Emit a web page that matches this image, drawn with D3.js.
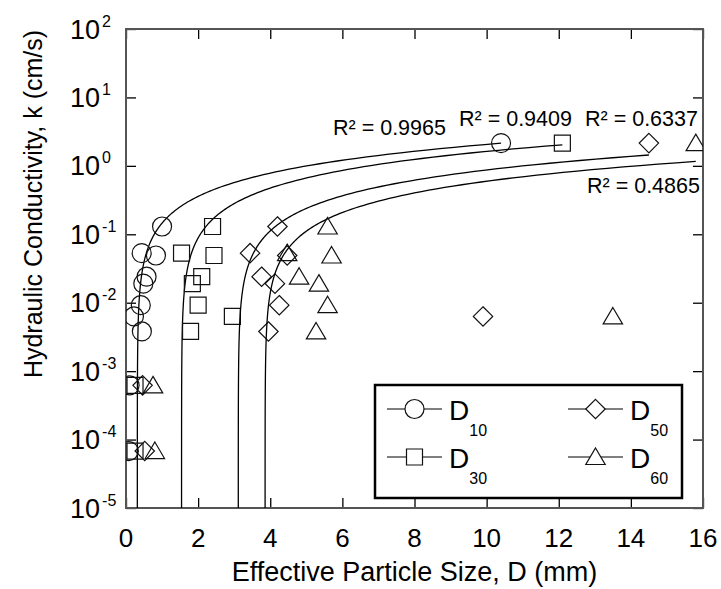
<!DOCTYPE html>
<html>
<head>
<meta charset="utf-8">
<script src="https://cdn.jsdelivr.net/npm/d3@7"></script>
<style>
  html, body { margin: 0; padding: 0; background: #fff; }
  text { font-family: "Liberation Sans", Arial, sans-serif; fill: #000; }
</style>
</head>
<body>
<script>
// ---------------- data ----------------
const kValues = [0.13, 0.053, 0.049, 0.024, 0.019, 0.0092, 0.0063, 0.0038, 0.00062, 0.000068, 2.15];
const d10 = [1.00, 0.435, 0.83, 0.57, 0.48, 0.41, 0.22, 0.44, 0.10, 0.08, 10.4];
const d30 = [2.40, 1.54, 2.44, 2.10, 1.84, 2.00, 2.95, 1.79, 0.25, 0.25, 12.1];
const d50 = [4.20, 3.44, 4.47, 3.76, 4.13, 4.25, 9.90, 3.95, 0.46, 0.52, 14.5];
const d60 = [5.59, 4.47, 5.70, 4.80, 5.35, 5.59, 13.5, 5.27, 0.75, 0.80, 15.8];
const seriesNames = ["D10", "D30", "D50", "D60"];
const seriesSubs = ["10", "30", "50", "60"];
const seriesMarkers = ["circle", "square", "diamond", "triangle"];
const r2Labels = ["R² = 0.9965", "R² = 0.9409", "R² = 0.6337", "R² = 0.4865"];
const xTicks = [0, 2, 4, 6, 8, 10, 12, 14, 16];
const yExponents = [2, 1, 0, -1, -2, -3, -4, -5];

// ---------------- layout ----------------
const W = 721, H = 589;
const L = 126, R = 703, T = 29, B = 508;
const svg = d3.select("body").append("svg").attr("width", W).attr("height", H);

const x = d3.scaleLinear().domain([0, 16]).range([L, R]);
const y = d3.scaleLog().domain([1e-5, 1e2]).range([B, T]);

svg.append("defs").append("clipPath").attr("id", "plotclip")
  .append("rect").attr("x", L).attr("y", T).attr("width", R - L).attr("height", B - T);

// marker path generators
function markerPath(type) {
  const s = 9.5;
  if (type === "circle") return d3.symbol().type(d3.symbolCircle).size(Math.PI * s * s)();
  if (type === "square") return "M-8,-8H8V8H-8Z";
  if (type === "diamond") return "M0,-9.7L9.7,0L0,9.7L-9.7,0Z";
  return "M0,-9L9.7,7.5L-9.7,7.5Z";
}

// axes ticks (inward)
const tickLen = 10;
svg.append("g").attr("transform", `translate(0,${B})`)
  .call(d3.axisBottom(x).tickValues(xTicks).tickSize(-tickLen).tickFormat(""))
  .call(g => g.select(".domain").remove());
svg.append("g").attr("transform", `translate(0,${T})`)
  .call(d3.axisTop(x).tickValues(xTicks).tickSize(-tickLen).tickFormat(""))
  .call(g => g.select(".domain").remove());
const yTickVals = yExponents.map(e => Math.pow(10, e));
svg.append("g").attr("transform", `translate(${L},0)`)
  .call(d3.axisLeft(y).tickValues(yTickVals).tickSize(-tickLen).tickFormat(""))
  .call(g => g.select(".domain").remove());
svg.append("g").attr("transform", `translate(${R},0)`)
  .call(d3.axisRight(y).tickValues(yTickVals).tickSize(-tickLen).tickFormat(""))
  .call(g => g.select(".domain").remove());
svg.selectAll(".tick line").attr("stroke", "#000").attr("stroke-width", 1.3);

// frame
svg.append("rect").attr("x", L).attr("y", T).attr("width", R - L).attr("height", B - T)
  .attr("fill", "none").attr("stroke", "#555").attr("stroke-width", 2);

// x tick labels
svg.append("g").selectAll("text").data(xTicks).join("text")
  .attr("x", d => x(d)).attr("y", 547)
  .attr("text-anchor", "middle").attr("font-size", 26)
  .text(d => d);

// y tick labels
const yl = svg.append("g").selectAll("text").data(yExponents).join("text")
  .attr("x", 70).attr("y", d => y(Math.pow(10, d)) + 9.5)
  .attr("font-size", 27);
yl.append("tspan").text("10");
yl.append("tspan").attr("font-size", 16).attr("dx", 2).attr("dy", -12).text(d => d);

// axis titles
svg.append("text").attr("x", (L + R) / 2).attr("y", 581).attr("text-anchor", "middle")
  .attr("font-size", 27).text("Effective Particle Size, D (mm)");
svg.append("text").attr("transform", "translate(42,204) rotate(-90)")
  .attr("text-anchor", "middle").attr("font-size", 25).text("Hydraulic Conductivity, k (cm/s)");

// series
const allD = [d10, d30, d50, d60];
const plot = svg.append("g").attr("clip-path", "url(#plotclip)");

allD.forEach((ds, i) => {
  const pts = ds.map((d, j) => ({ d: d, k: kValues[j] }));
  // linear least-squares trendline k = a*D + b
  const mx = d3.mean(pts, p => p.d), mk = d3.mean(pts, p => p.k);
  const sxy = d3.sum(pts, p => (p.d - mx) * (p.k - mk));
  const sxx = d3.sum(pts, p => (p.d - mx) * (p.d - mx));
  const a = sxy / sxx, b = mk - a * mx;
  const x0 = -b / a;
  const xmin = d3.min(ds), xmax = d3.max(ds);
  const start = Math.max(xmin, x0);
  const curve = [];
  const span = xmax - start;
  for (let t = 0; t <= 400; t++) {
    const dx = span * Math.pow(10, -8 + 8 * t / 400);
    const xv = start + dx;
    curve.push([xv, Math.max(a * xv + b, 1e-9)]);
  }
  plot.append("path").datum(curve)
    .attr("fill", "none").attr("stroke", "#000").attr("stroke-width", 1.3)
    .attr("d", d3.line().x(p => x(p[0])).y(p => y(p[1])));

  plot.append("g").selectAll("path").data(pts).join("path")
    .attr("transform", p => `translate(${x(p.d)},${y(p.k)})`)
    .attr("d", markerPath(seriesMarkers[i]))
    .attr("fill", "none").attr("stroke", "#111").attr("stroke-width", 1.2);
});

// R² labels
const r2Pos = [[333, 135], [459, 126], [585, 126], [587, 193]];
svg.append("g").selectAll("text").data(r2Labels).join("text")
  .attr("x", (d, i) => r2Pos[i][0]).attr("y", (d, i) => r2Pos[i][1])
  .attr("font-size", 21.5).text(d => d);

// legend
const lg = svg.append("g");
lg.append("rect").attr("x", 375).attr("y", 385).attr("width", 307).attr("height", 113)
  .attr("fill", "#fff").attr("stroke", "#000").attr("stroke-width", 2.5);
const legPos = [[387, 409], [387, 457], [568, 409], [568, 457]];
seriesNames.forEach((nm, i) => {
  const [lx, ly] = legPos[i];
  lg.append("line").attr("x1", lx).attr("x2", lx + 55).attr("y1", ly).attr("y2", ly)
    .attr("stroke", "#000").attr("stroke-width", 1.2);
  lg.append("path").attr("transform", `translate(${lx + 27.5},${ly})`)
    .attr("d", markerPath(seriesMarkers[i])).attr("fill", "#fff")
    .attr("stroke", "#111").attr("stroke-width", 1.2);
  const t = lg.append("text").attr("x", lx + 62).attr("y", ly + 11).attr("font-size", 28);
  t.append("tspan").text("D");
  t.append("tspan").attr("font-size", 16).attr("dx", 0).attr("dy", 16).text(seriesSubs[i]);
});
</script>
</body>
</html>
